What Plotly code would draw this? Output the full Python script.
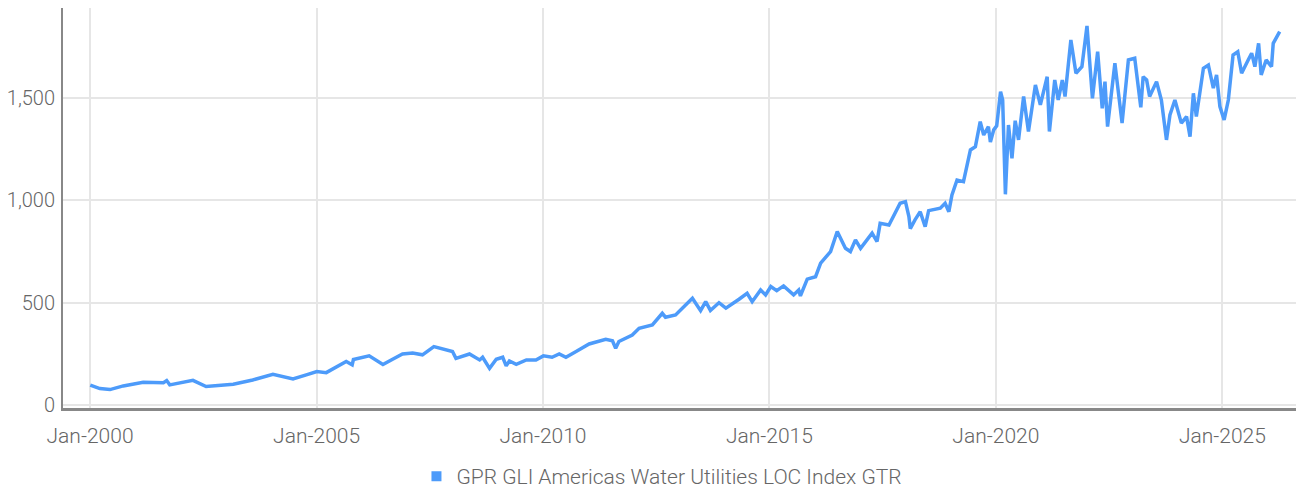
import plotly.graph_objects as go

SERIES_NAME = "GPR GLI Americas Water Utilities LOC Index GTR"

dates = [
    "2000-01-03", "2000-03-20", "2000-06-10", "2000-09-25", "2001-03-05", "2001-08-15", "2001-09-10",
    "2001-10-05", "2002-04-10", "2002-07-25", "2003-03-01", "2003-08-05", "2004-01-15", "2004-06-25",
    "2004-10-10", "2005-01-03", "2005-03-20", "2005-08-28", "2005-10-15", "2005-10-25", "2006-03-01",
    "2006-06-20", "2006-09-10", "2006-11-25", "2007-02-15", "2007-05-05", "2007-08-05", "2007-10-15",
    "2008-01-02", "2008-01-30", "2008-05-18", "2008-08-08", "2008-09-01", "2008-10-27", "2008-12-20",
    "2009-02-10", "2009-03-10", "2009-04-05", "2009-05-30", "2009-08-20", "2009-11-05", "2010-01-04",
    "2010-03-15", "2010-05-12", "2010-07-05", "2010-09-25", "2011-01-08", "2011-05-22", "2011-07-15",
    "2011-08-10", "2011-09-05", "2011-12-22", "2012-02-15", "2012-06-01", "2012-08-20", "2012-09-15",
    "2012-12-05", "2013-04-20", "2013-06-25", "2013-08-05", "2013-09-12", "2013-11-20", "2014-01-15",
    "2014-05-01", "2014-07-05", "2014-08-15", "2014-10-22", "2014-12-01", "2015-01-12", "2015-03-01",
    "2015-04-25", "2015-07-15", "2015-08-25", "2015-09-08", "2015-11-02", "2016-01-08", "2016-02-18",
    "2016-05-08", "2016-07-01", "2016-09-05", "2016-10-15", "2016-11-25", "2017-01-05", "2017-04-08",
    "2017-05-18", "2017-06-12", "2017-08-22", "2017-11-20", "2018-01-02", "2018-01-30", "2018-02-10",
    "2018-03-20", "2018-05-01", "2018-06-10", "2018-07-08", "2018-10-10", "2018-11-18", "2018-12-18",
    "2019-01-12", "2019-02-22", "2019-04-15", "2019-06-10", "2019-07-20", "2019-08-28", "2019-09-25",
    "2019-11-02", "2019-11-18", "2019-12-15", "2020-01-08", "2020-02-08", "2020-02-25", "2020-03-18",
    "2020-03-28", "2020-04-12", "2020-05-10", "2020-06-05", "2020-07-02", "2020-08-12", "2020-09-20",
    "2020-11-15", "2020-12-25", "2021-02-18", "2021-03-08", "2021-04-20", "2021-05-18", "2021-06-20",
    "2021-07-12", "2021-08-28", "2021-10-08", "2021-11-25", "2022-01-05", "2022-02-18", "2022-04-01",
    "2022-05-08", "2022-05-30", "2022-06-20", "2022-08-18", "2022-10-15", "2022-12-05", "2023-01-25",
    "2023-03-15", "2023-04-03", "2023-05-01", "2023-05-25", "2023-07-20", "2023-08-28", "2023-10-08",
    "2023-11-05", "2023-12-15", "2024-02-05", "2024-03-18", "2024-04-15", "2024-05-12", "2024-06-05",
    "2024-08-01", "2024-09-10", "2024-10-20", "2024-11-15", "2024-12-12", "2025-01-15", "2025-02-18",
    "2025-03-28", "2025-05-05", "2025-06-05", "2025-07-28", "2025-08-25", "2025-09-20", "2025-10-20",
    "2025-11-10", "2025-12-20", "2026-02-01", "2026-02-15", "2026-04-08",
]

values = [
    97, 80, 75, 93, 111, 109, 119,
    98, 120, 90, 101, 122, 150, 127,
    147, 163, 158, 212, 196, 222, 240,
    198, 225, 249, 254, 245, 285, 274,
    261, 228, 249, 220, 233, 179, 223,
    233, 191, 215, 199, 220, 220, 240,
    233, 249, 233, 261, 298, 321, 314,
    277, 310, 342, 375, 391, 448, 429,
    440, 522, 461, 505, 462, 500, 473,
    517, 546, 505, 562, 538, 579, 559,
    582, 538, 562, 533, 615, 627, 693,
    750, 848, 766, 750, 807, 766, 840,
    799, 888, 880, 986, 994, 921, 862,
    905, 945, 872, 950, 962, 986, 945,
    1027, 1100, 1092, 1247, 1263, 1385, 1320,
    1361, 1285, 1345, 1365, 1532, 1491, 1030,
    1198, 1369, 1206, 1390, 1296, 1508, 1337,
    1565, 1467, 1605, 1337, 1589, 1491, 1589,
    1508, 1785, 1622, 1654, 1853, 1499, 1727,
    1450, 1581, 1361, 1671, 1378, 1687, 1695,
    1455, 1605, 1589, 1508, 1581, 1491, 1296,
    1418, 1491, 1378, 1410, 1312, 1524, 1410,
    1646, 1662, 1549, 1614, 1459, 1394, 1491,
    1711, 1727, 1622, 1687, 1720, 1654, 1768,
    1614, 1687, 1654, 1768, 1825,
]

x_tickvals = ["2000-01-01", "2005-01-01", "2010-01-01", "2015-01-01", "2020-01-01", "2025-01-01"]
y_tickvals = [0, 500, 1000, 1500]

LINE_COLOR = "#4d9bfa"
FONT = "Roboto, sans-serif"
TEXT_COLOR = "#666666"

fig = go.Figure()
fig.add_trace(go.Scatter(
    x=dates, y=values, mode="lines",
    line=dict(color=LINE_COLOR, width=3.5),
    name=SERIES_NAME, showlegend=False,
))
fig.add_trace(go.Scatter(
    x=[None], y=[None], mode="markers",
    marker=dict(symbol="square", size=10, color=LINE_COLOR),
    name=SERIES_NAME, showlegend=True,
))

# the page body adds an 8px offset, so the figure is 8px smaller and margins shifted
fig.update_layout(
    width=1296, height=482,
    margin=dict(l=55, r=2, t=0, b=82, autoexpand=False),
    paper_bgcolor="white", plot_bgcolor="white",
    font=dict(family=FONT, color=TEXT_COLOR, size=21, weight=300),
    legend=dict(
        orientation="h",
        xref="container", x=0.5046, xanchor="center",
        yref="container", y=0.028, yanchor="middle",
        font=dict(size=21, color=TEXT_COLOR, family=FONT, weight=300),
        itemwidth=30,
    ),
    xaxis=dict(
        type="date",
        range=["1999-05-28", "2026-10-05"],
        tickvals=x_tickvals, tickformat="%b-%Y",
        showgrid=True, gridcolor="#e6e6e6", gridwidth=2,
        showline=True, linecolor="#888888", linewidth=3,
        ticks="", ticklabelstandoff=7,
        zeroline=False, automargin=False,
    ),
    yaxis=dict(
        range=[-15, 1941],
        tickvals=y_tickvals, tickformat=",",
        tickfont=dict(size=20, family=FONT, color=TEXT_COLOR, weight=300),
        showgrid=True, gridcolor="#e6e6e6", gridwidth=2,
        showline=True, linecolor="#888888", linewidth=2,
        ticks="", ticklabelstandoff=2,
        zeroline=False, automargin=False,
    ),
)

fig.write_html("out.html")
